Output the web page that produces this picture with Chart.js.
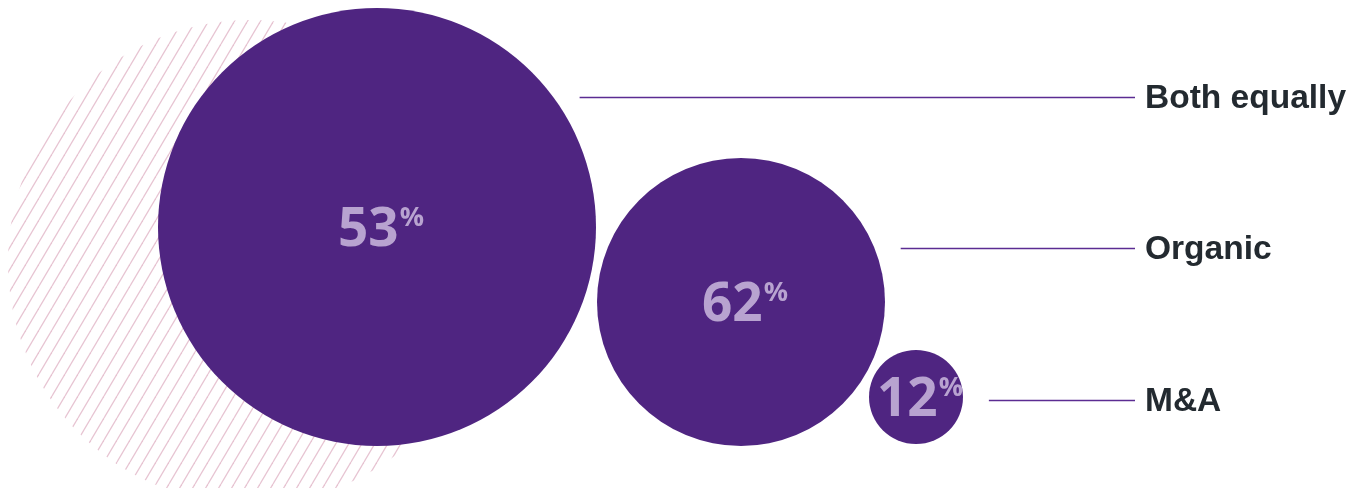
<!DOCTYPE html>
<html>
<head>
<meta charset="utf-8">
<title>Growth strategy</title>
<script src="https://cdn.jsdelivr.net/npm/chart.js@4.4.1/dist/chart.umd.min.js"></script>
<style>
  html, body { margin: 0; padding: 0; background: #ffffff; }
  #wrap { width: 1361px; height: 488px; }
</style>
</head>
<body>
<div id="wrap"><canvas id="bubbleChart" width="1361" height="488"></canvas></div>
<script>
// Datos del gráfico
const categorias = ['Both equally', 'Organic', 'M&A'];
const porcentajes = [53, 62, 12];
// posición y tamaño de cada burbuja (en unidades de las escalas)
const burbujaX = [377, 741, 916];
const burbujaY = [227, 302, 397];
const burbujaR = [219, 144, 47];
// altura de cada línea guía con su etiqueta
const etiquetaY = [97, 248, 400];
// círculo rayado decorativo del fondo
const fondoX = [250];
const fondoY = [262];
const fondoR = [242];

const MORADO = '#4f2581';
const LILA = '#b8a3d0';
const LINEA = '#5b2c92';
const TEXTO = '#232a30';

function crearPatronRayado() {
    const tile = document.createElement('canvas');
    tile.width = 13;
    tile.height = 22;
    const c = tile.getContext('2d');
    c.strokeStyle = '#e7c4d2';
    c.lineWidth = 1.3;
    for (let k = -1; k <= 1; k++) {
        c.beginPath();
        c.moveTo(k * 13, 22);
        c.lineTo(k * 13 + 13, 0);
        c.stroke();
    }
    return document.getElementById('bubbleChart').getContext('2d').createPattern(tile, 'repeat');
}

// Plugin para dibujar porcentajes, líneas guía y etiquetas
const etiquetasPlugin = {
    id: 'etiquetasBurbujas',
    afterDatasetsDraw(chart) {
        const ctx = chart.ctx;
        const meta = chart.getDatasetMeta(1);
        const yScale = chart.scales.y;
        const finLinea = chart.chartArea.right - 226;

        ctx.save();
        meta.data.forEach((el, i) => {
            const r = el.options.radius;

            // porcentaje dentro de la burbuja
            const numero = String(porcentajes[i]);
            ctx.font = 'bold 53px "Open Sans"';
            const wNum = ctx.measureText(numero).width;
            ctx.font = 'bold 27px "Open Sans"';
            const wPct = ctx.measureText('%').width;
            const inicio = el.x - (wNum + 1 + wPct) / 2 + 4;
            ctx.fillStyle = LILA;
            ctx.textAlign = 'left';
            ctx.textBaseline = 'alphabetic';
            ctx.font = 'bold 53px "Open Sans"';
            ctx.fillText(numero, inicio, el.y + 19);
            ctx.font = 'bold 27px "Open Sans"';
            ctx.fillText('%', inicio + wNum + 1, el.y - 1);

            // línea guía
            const y = Math.round(yScale.getPixelForValue(etiquetaY[i])) + 0.5;
            const dy = y - el.y;
            const borde = Math.abs(dy) < r ? el.x + Math.sqrt(r * r - dy * dy) : el.x;
            ctx.strokeStyle = LINEA;
            ctx.lineWidth = 1.6;
            ctx.beginPath();
            ctx.moveTo(borde + 26, y);
            ctx.lineTo(finLinea, y);
            ctx.stroke();

            // etiqueta de la categoría
            ctx.fillStyle = TEXTO;
            ctx.font = 'bold 33.5px "Liberation Sans", Arial, sans-serif';
            ctx.textBaseline = 'middle';
            ctx.fillText(categorias[i], finLinea + 10, y + 1);
        });
        ctx.restore();
    }
};

const chartData = {
    datasets: [
        {
            label: 'fondo',
            data: fondoX.map((x, i) => ({ x: x, y: fondoY[i], r: fondoR[i] })),
            backgroundColor: crearPatronRayado(),
            borderWidth: 0,
            clip: false,
            order: 2
        },
        {
            label: 'Estrategia de crecimiento',
            data: burbujaX.map((x, i) => ({ x: x, y: burbujaY[i], r: burbujaR[i] })),
            backgroundColor: MORADO,
            borderWidth: 0,
            clip: false,
            order: 1
        }
    ]
};

const options = {
    responsive: false,
    animation: false,
    events: [],
    layout: { padding: 0, autoPadding: false },
    plugins: {
        legend: { display: false },
        tooltip: { enabled: false }
    },
    scales: {
        x: { type: 'linear', min: 0, max: 1361, display: false },
        y: { type: 'linear', min: 0, max: 488, reverse: true, display: false }
    }
};

window.burbujasChart = new Chart(document.getElementById('bubbleChart'), {
    type: 'bubble',
    data: chartData,
    options: options,
    plugins: [etiquetasPlugin]
});
</script>
</body>
</html>
